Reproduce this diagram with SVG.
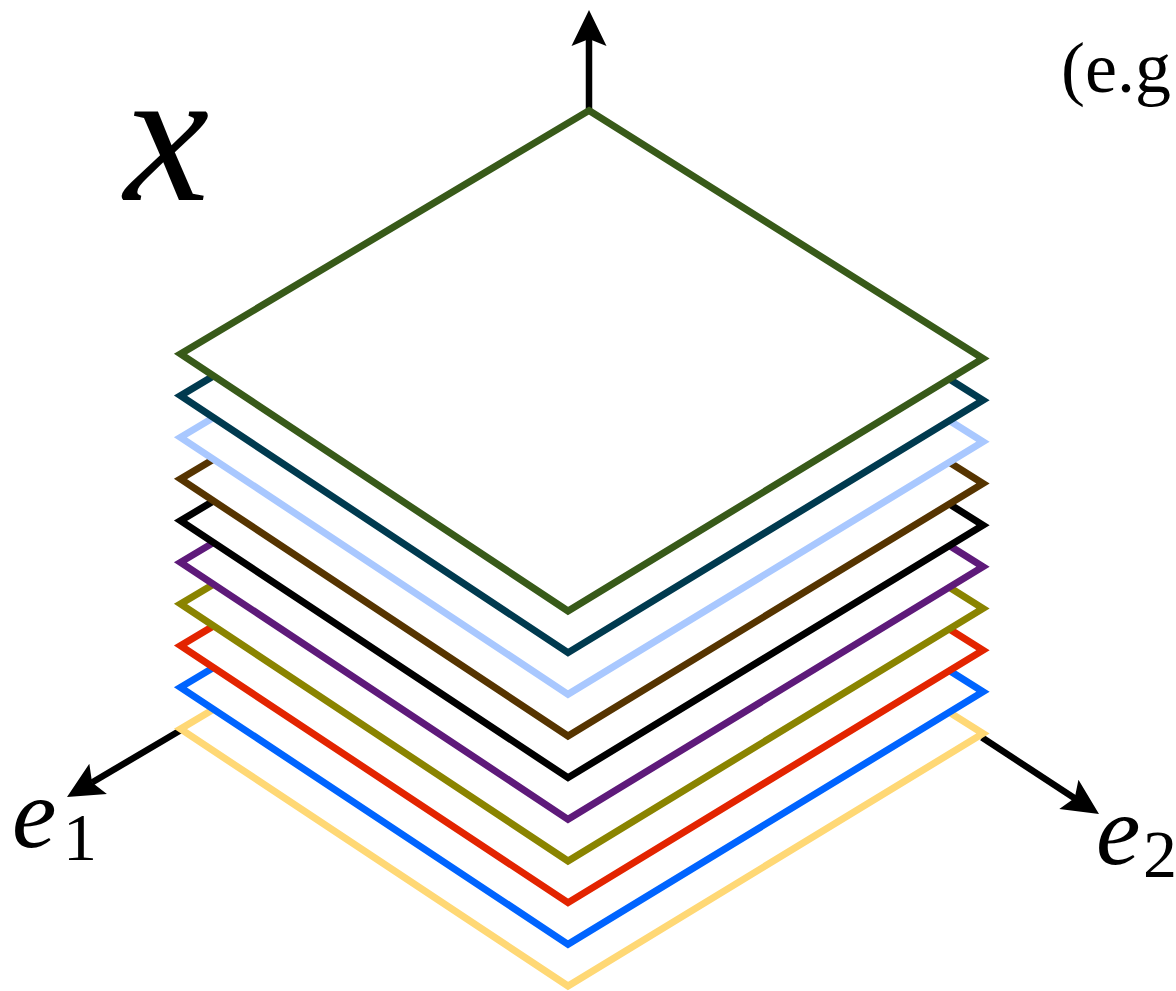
<svg xmlns="http://www.w3.org/2000/svg" width="1176" height="991" viewBox="0 0 1176 991">
<style>
.layer{fill:#fff;stroke-width:7;stroke-linejoin:miter;stroke-miterlimit:10}
.shaft{stroke:#000;stroke-width:6.5;fill:none}
.head{fill:#000}
</style>
<defs>
<polygon id="plane" points="589,110.5 983,358.5 568,611 180.5,354"/>
<path id="ahead" d="M0,0 L-36,-17.5 L-29,0 L-36,17.5 Z"/>
</defs>
<g id="axes">
<line class="shaft" x1="589" y1="110" x2="589" y2="38"/>
<use href="#ahead" class="head" transform="translate(589,10) rotate(-90)"/>
<line class="shaft" x1="181" y1="730" x2="92" y2="782.5"/>
<use href="#ahead" class="head" transform="translate(67,797) rotate(149.8)"/>
<line class="shaft" x1="982" y1="737.5" x2="1075" y2="798.5"/>
<use href="#ahead" class="head" transform="translate(1099,814) rotate(33.2)"/>
</g>
<g id="layer-yellow"><use href="#plane" class="layer" stroke="#FFD875" transform="translate(0,375)"/></g>
<g id="layer-blue"><use href="#plane" class="layer" stroke="#0064FF" transform="translate(0,333.3)"/></g>
<g id="layer-red"><use href="#plane" class="layer" stroke="#E32400" transform="translate(0,291.7)"/></g>
<g id="layer-olive"><use href="#plane" class="layer" stroke="#8A8400" transform="translate(0,250)"/></g>
<g id="layer-purple"><use href="#plane" class="layer" stroke="#5E1A7A" transform="translate(0,208.3)"/></g>
<g id="layer-black"><use href="#plane" class="layer" stroke="#000000" transform="translate(0,166.7)"/></g>
<g id="layer-brown"><use href="#plane" class="layer" stroke="#563400" transform="translate(0,125)"/></g>
<g id="layer-lightblue"><use href="#plane" class="layer" stroke="#A9C8FF" transform="translate(0,83.3)"/></g>
<g id="layer-teal"><use href="#plane" class="layer" stroke="#003A4F" transform="translate(0,41.7)"/></g>
<g id="layer-green"><use href="#plane" class="layer" stroke="#385A19"/></g>
<g id="labels" font-family="'Liberation Serif', 'Times New Roman', Times, serif" fill="#000">
<text x="124" y="200" font-size="192" font-style="italic">x</text>
<text x="12" y="847" font-size="100" font-style="italic">e</text>
<text x="63" y="860" font-size="68">1</text>
<text x="1096" y="864" font-size="100" font-style="italic">e</text>
<text x="1143" y="877" font-size="68">2</text>
<text x="1061" y="92" font-size="72">(e.g</text>
</g>
</svg>
